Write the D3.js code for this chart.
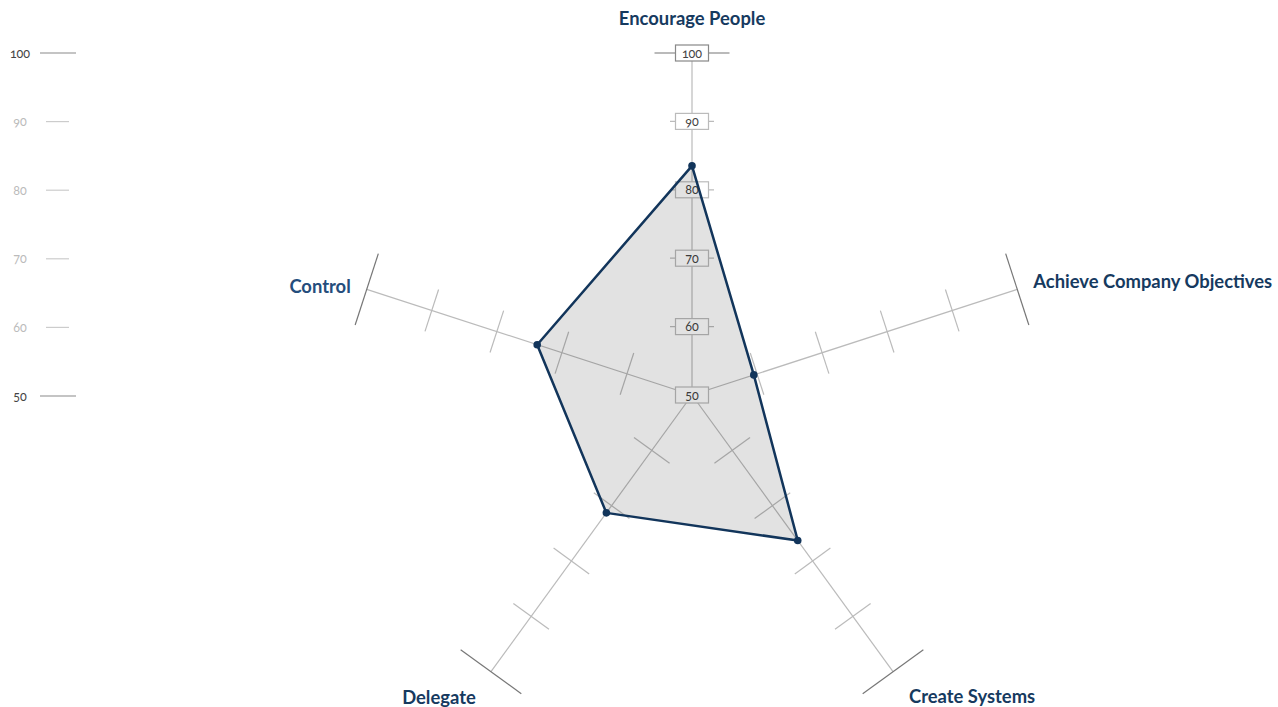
<!DOCTYPE html>
<html>
<head>
<meta charset="utf-8">
<script src="https://cdn.jsdelivr.net/npm/d3@7"></script>
<style>
  html, body { margin: 0; padding: 0; background: #fff; }
  svg { display: block; }
  text { font-family: Lato, "Open Sans", sans-serif; font-variant-numeric: oldstyle-nums; font-feature-settings: "onum"; }
</style>
</head>
<body>
<svg id="chart" width="1278" height="707"></svg>
<script>
const axes = ["Encourage People", "Achieve Company Objectives", "Create Systems", "Delegate", "Control"];
const values = [83.5, 59.5, 76.3, 71.3, 73.8];
const ticks = [50, 60, 70, 80, 90, 100];

const W = 1278, H = 707;
const cx = 692, cy = 395, R = 342;
const svg = d3.select("#chart");

const r = d3.scaleLinear().domain([50, 100]).range([0, R]);
const ang = d3.scaleLinear().domain([0, axes.length]).range([0, 2 * Math.PI]);
const pt = (i, v) => {
  const a = ang(i);
  return [cx + r(v) * Math.sin(a), cy - r(v) * Math.cos(a)];
};

// Left scale
const yLeft = d3.scaleLinear().domain([50, 100]).range([396, 53]);
const left = svg.append("g");
ticks.forEach(t => {
  const main = (t === 50 || t === 100);
  left.append("line")
    .attr("x1", main ? 40 : 46).attr("x2", main ? 76 : 69)
    .attr("y1", yLeft(t)).attr("y2", yLeft(t))
    .attr("stroke", main ? "#8a8a8a" : "#cccccc").attr("stroke-width", 1.2);
  left.append("text")
    .attr("x", 20).attr("y", yLeft(t) + 4.5)
    .attr("text-anchor", "middle")
    .attr("font-size", 12.5)
    .attr("fill", main ? "#444" : "#bbb")
    .text(t);
});

// Spokes + ticks
const g = svg.append("g");
axes.forEach((name, i) => {
  const a = ang(i);
  const [x0, y0] = pt(i, 50);
  const [x1, y1] = pt(i, 100);
  g.append("line").attr("x1", x0).attr("y1", y0).attr("x2", x1).attr("y2", y1)
    .attr("stroke", "#bbbbbb").attr("stroke-width", 1.2);
  const px = Math.cos(a), py = Math.sin(a);
  ticks.slice(1).forEach(t => {
    const [tx, ty] = pt(i, t);
    const half = t === 100 ? 37.5 : 22;
    g.append("line")
      .attr("x1", tx - px * half).attr("y1", ty - py * half)
      .attr("x2", tx + px * half).attr("y2", ty + py * half)
      .attr("stroke", t === 100 ? "#777" : "#bbbbbb")
      .attr("stroke-width", 1.2);
  });
});

// Value boxes on the top axis
const boxes = svg.append("g");
ticks.forEach(t => {
  const [tx, ty] = pt(0, t);
  const top = t === 100;
  boxes.append("rect")
    .attr("x", tx - 16.5).attr("y", ty - 8)
    .attr("width", 33).attr("height", 16)
    .attr("fill", "#fff")
    .attr("stroke", top ? "#888" : "#bbbbbb").attr("stroke-width", 1.2);
  boxes.append("text")
    .attr("x", tx).attr("y", ty + 4.5)
    .attr("text-anchor", "middle")
    .attr("font-size", 12.5)
    .attr("fill", "#444")
    .text(t);
});

// Data polygon
const pts = values.map((v, i) => pt(i, v));
svg.append("path")
  .attr("d", d3.line()(pts) + "Z")
  .attr("fill", "rgba(0,0,0,0.115)")
  .attr("stroke", "#12355b")
  .attr("stroke-width", 2.5)
  .attr("stroke-linejoin", "round");
svg.append("g").selectAll("circle").data(pts).join("circle")
  .attr("cx", d => d[0]).attr("cy", d => d[1]).attr("r", 3.8)
  .attr("fill", "#12355b");

// Axis labels
const labelPos = [
  { dx: 0, dy: -28, anchor: "middle" },
  { dx: 16, dy: -1, anchor: "start" },
  { dx: 16, dy: 31, anchor: "start" },
  { dx: -52, dy: 32, anchor: "middle" },
  { dx: -16, dy: 4, anchor: "end" }
];
const labelColors = ["#163a5f", "#163a5f", "#163a5f", "#163a5f", "#254d7c"];
axes.forEach((name, i) => {
  const [x1, y1] = pt(i, 100);
  const p = labelPos[i];
  svg.append("text")
    .attr("x", x1 + p.dx).attr("y", y1 + p.dy)
    .attr("text-anchor", p.anchor)
    .attr("font-size", 18.4)
    .attr("font-weight", 700)
    .attr("fill", labelColors[i])
    .text(name);
});
</script>
</body>
</html>
